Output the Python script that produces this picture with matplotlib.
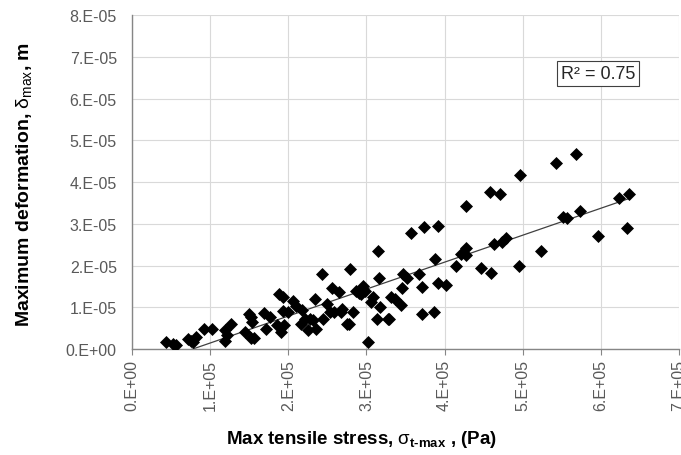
import matplotlib.pyplot as plt
import numpy as np

# stress in units of 1E+05 Pa, deformation in units of 1E-05 m
stress_e5 = [0.433, 0.517, 0.567, 0.711, 0.756, 0.783, 0.822, 0.922, 1.017, 1.183,
             1.19, 1.21, 1.26, 1.45, 1.49, 1.52, 1.54, 1.52, 1.56, 1.69,
             1.71, 1.77, 1.85, 1.88, 1.93, 1.91, 1.94, 1.93, 1.99, 2.06,
             2.10, 2.16, 2.18, 2.21, 2.25, 2.28, 2.31, 2.34, 2.35, 2.43,
             2.44, 2.50, 2.53, 2.56, 2.58, 2.65, 2.67, 2.69, 2.75, 2.78,
             2.79, 2.83, 2.87, 2.91, 2.93, 2.96, 2.98, 3.02, 3.06, 3.08,
             3.14, 3.15, 3.16, 3.17, 3.27, 3.29, 3.32, 3.36, 3.44, 3.46,
             3.47, 3.52, 3.57, 3.67, 3.71, 3.71, 3.73, 3.87, 3.88, 3.91,
             3.91, 4.02, 4.14, 4.21, 4.27, 4.28, 4.28, 4.46, 4.58, 4.60,
             4.63, 4.71, 4.74, 4.79, 4.95, 4.97, 5.24, 5.43, 5.52, 5.57,
             5.68, 5.73, 5.96, 6.23, 6.33, 6.36]
deform_e5 = [0.175, 0.12, 0.10, 0.255, 0.20, 0.175, 0.30, 0.49, 0.48, 0.20,
             0.46, 0.33, 0.60, 0.42, 0.84, 0.76, 0.65, 0.28, 0.28, 0.86,
             0.48, 0.76, 0.57, 1.31, 1.24, 0.40, 0.57, 0.92, 0.89, 1.16,
             1.04, 0.61, 0.94, 0.72, 0.46, 0.73, 0.70, 1.21, 0.49, 1.79,
             0.73, 1.09, 0.88, 1.47, 0.88, 1.37, 0.88, 0.96, 0.60, 0.60,
             1.91, 0.88, 1.39, 1.35, 1.31, 1.51, 1.39, 0.18, 1.12, 1.24,
             0.72, 2.35, 1.71, 1.00, 0.72, 0.72, 1.26, 1.20, 1.05, 1.47,
             1.81, 1.71, 2.79, 1.81, 0.84, 1.50, 2.92, 0.88, 2.15, 1.59,
             2.95, 1.54, 1.98, 2.27, 2.25, 3.43, 2.43, 1.95, 3.77, 1.82,
             2.53, 3.72, 2.57, 2.65, 1.98, 4.17, 2.35, 4.45, 3.16, 3.15,
             4.68, 3.31, 2.71, 3.62, 2.89, 3.71]

x_ticks = [0, 1e5, 2e5, 3e5, 4e5, 5e5, 6e5, 7e5]
x_labels = ["0.E+00", "1.E+05", "2.E+05", "3.E+05", "4.E+05", "5.E+05", "6.E+05", "7.E+05"]
y_ticks = [0, 1e-5, 2e-5, 3e-5, 4e-5, 5e-5, 6e-5, 7e-5, 8e-5]
y_labels = ["0.E+00", "1.E-05", "2.E-05", "3.E-05", "4.E-05", "5.E-05", "6.E-05", "7.E-05", "8.E-05"]
r2_text = "R\u00b2 = 0.75"

plt.rcParams["font.family"] = ["Liberation Sans", "DejaVu Sans"]
plt.rcParams["mathtext.fontset"] = "custom"
plt.rcParams["mathtext.rm"] = "Liberation Sans"
plt.rcParams["mathtext.it"] = "Liberation Sans"
plt.rcParams["mathtext.bf"] = "Liberation Sans:bold"

x = np.array(stress_e5) * 1e5
y = np.array(deform_e5) * 1e-5

fig = plt.figure(figsize=(6.81, 4.56), dpi=100)
ax = fig.add_axes([0.194, 0.232, 0.803, 0.733])

ax.scatter(x, y, marker="D", s=44, color="black", zorder=3, linewidths=0)

# linear trendline as excel draws it: from min x to max x
slope, icpt = np.polyfit(x, y, 1)
xt = np.array([x.min(), x.max()])
ax.plot(xt, slope * xt + icpt, color="#404040", lw=0.9, zorder=2)

ax.set_xlim(0, 7e5)
ax.set_ylim(0, 8e-5)
ax.set_xticks(x_ticks)
ax.set_xticklabels(x_labels, rotation=90)
ax.set_yticks(y_ticks)
ax.set_yticklabels(y_labels)
ax.tick_params(axis="both", labelsize=11.5, labelcolor="#595959", color="#868686",
               length=4, width=0.8)
ax.tick_params(axis="x", pad=3)
ax.tick_params(axis="y", length=0, pad=11)
ax.grid(True, color="#d9d9d9", lw=0.8, zorder=0)
ax.set_axisbelow(True)
for side in ["top", "right"]:
    ax.spines[side].set_visible(False)
for side in ["left", "bottom"]:
    ax.spines[side].set_color("#868686")
    ax.spines[side].set_linewidth(1.0)

ax.set_xlabel("Max tensile stress, $σ_{\\mathbf{t\u2010max}}$ , (Pa)",
              fontsize=13.5, fontweight="bold")
ax.set_ylabel("Maximum deformation, $δ_{max}$, m", fontsize=14, fontweight="bold")
ax.xaxis.set_label_coords(0.42, -0.235)
ax.yaxis.set_label_coords(-0.18, 0.495)

ax.text(5.96e5, 6.6e-5, r2_text, fontsize=13, color="#262626", ha="center", va="center",
        bbox=dict(boxstyle="square,pad=0.2", fc="white", ec="#404040", lw=0.8))

fig.savefig("out.png", dpi=100)
